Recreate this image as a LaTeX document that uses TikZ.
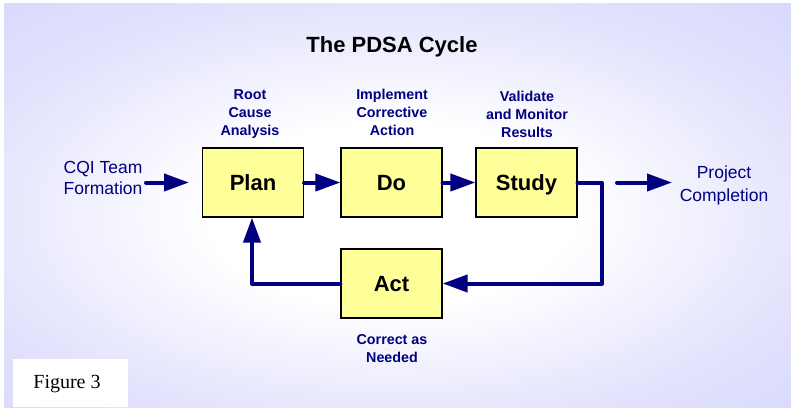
\documentclass[tikz,border=0pt]{standalone}
\usepackage{fontspec}
\setmainfont{Liberation Sans}
\newfontfamily\figfont{Liberation Serif}
\usetikzlibrary{arrows.meta}

\definecolor{bglav}{RGB}{204,204,252}
\definecolor{pdsanavy}{RGB}{0,0,128}
\definecolor{boxyellow}{RGB}{255,255,153}

% soft white centre fading out to lavender
\pgfdeclareradialshading{pdsabg}{\pgfpoint{0bp}{0bp}}{%
  color(0bp)=(white); color(6bp)=(white); color(14bp)=(bglav!55!white);
  color(25bp)=(bglav); color(50bp)=(bglav)}

\tikzset{
  stagebox/.style={draw=black, line width=1.2pt, fill=boxyellow,
    minimum width=101pt, minimum height=69pt, inner sep=0pt,
    text height=15.5pt, text depth=0pt,
    font=\bfseries\fontsize{22}{26}\selectfont, text=black},
  steplabel/.style={text=pdsanavy, align=center, inner sep=0pt,
    font=\bfseries\fontsize{14.3}{18}\selectfont},
  endlabel/.style={text=pdsanavy, align=center, inner sep=0pt},
  flow/.style={draw=pdsanavy, line width=4pt, line cap=round,
    -{Triangle[length=25pt,width=17pt]}},
}

\begin{document}
\begin{tikzpicture}[x=1pt,y=-1pt]
  \useasboundingbox (0,0) rectangle (791,407);
  \fill[white] (0,0) rectangle (791,407);

  % backdrop
  \begin{scope}
    \clip (4,3) rectangle (791,407);
    \fill[bglav] (4,3) rectangle (791,407);
    \shade[shading=pdsabg] (-370,-165) rectangle (1150,595);
  \end{scope}

  % title
  \node[anchor=base, inner sep=0pt, font=\bfseries\fontsize{22}{26}\selectfont]
    (title) at (392,52) {The PDSA Cycle};

  % stages
  \node[stagebox] (plan)  at (253,182.5) {Plan};
  \node[stagebox] (do)    at (391.5,182.5) {Do};
  \node[stagebox] (study) at (526.5,182.5) {Study};
  \node[stagebox] (act)   at (391.5,283.5) {Act};

  % stage captions
  \node[steplabel] (rootlbl)  at (250,114) {Root\\Cause\\Analysis};
  \node[steplabel] (implbl)   at (392,112) {Implement\\Corrective\\Action};
  \node[steplabel] (vallbl)   at (527,114) {Validate\\and Monitor\\Results};
  \node[steplabel] (corrlbl)  at (392,349) {Correct as\\Needed};

  % start and end
  \node[endlabel, font=\fontsize{17.5}{21.5}\selectfont] (start) at (103,178) {CQI Team\\Formation};
  \node[endlabel, font=\fontsize{17.5}{23}\selectfont] (finish) at (724,185) {Project\\Completion};

  \coordinate (startA) at (146,182.5);
  \coordinate (startB) at (189,182.5);
  \coordinate (endA) at (617,182.5);
  \coordinate (endB) at (672,182.5);
  \coordinate (studyturn) at (602,182.5);
  \coordinate (actturn) at (602,283.5);
  \coordinate (planturn) at (252,283.5);

  % flow
  \draw[flow] (startA) -- (startB);
  \draw[flow] (plan.east) -- (do.west);
  \draw[flow] (do.east) -- (study.west);
  \draw[flow] (endA) -- (endB);
  \draw[flow, line join=round] (study.east) -- (studyturn) -- (actturn) -- (act.east);
  \draw[flow, line join=round] (act.west) -- (planturn) -- (planturn |- plan.south);

  % figure tag
  \fill[white] (13,359) rectangle (128,407);
  \node[anchor=base, inner sep=0pt, font=\figfont\fontsize{20}{24}\selectfont]
    (figtag) at (67,388) {Figure 3};
\end{tikzpicture}
\end{document}
